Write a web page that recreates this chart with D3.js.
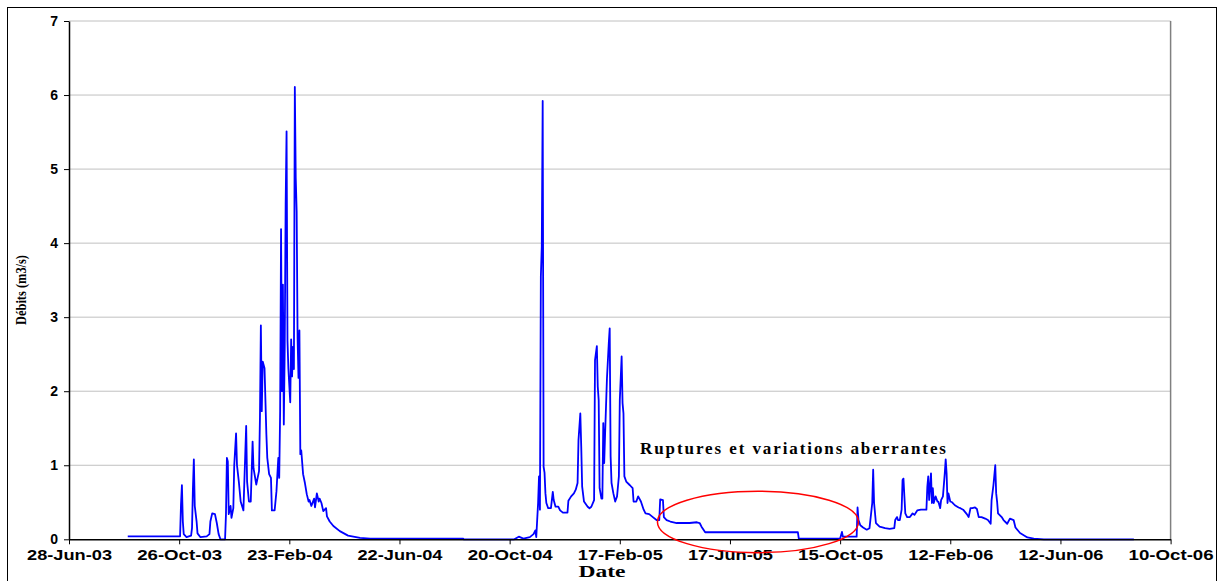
<!DOCTYPE html>
<html><head><meta charset="utf-8">
<script src="https://cdn.jsdelivr.net/npm/d3@7"></script>
<style>html,body{margin:0;padding:0;background:#fff}svg{display:block}</style>
</head><body>
<svg id="chart" width="1219" height="581"></svg>
<script>
// ---- data ----
const xTickLabels = ["28-Jun-03","26-Oct-03","23-Feb-04","22-Jun-04","20-Oct-04","17-Feb-05","17-Jun-05","15-Oct-05","12-Feb-06","12-Jun-06","10-Oct-06"];
const yTickValues = [0,1,2,3,4,5,6,7];
const xTitle = "Date";
const yTitle = "Débits (m3/s)";
const annotationText = "Ruptures et variations aberrantes";

const dates2003 = ["2003-08-31","2003-10-27","2003-10-28","2003-10-29","2003-10-30","2003-10-31","2003-11-03","2003-11-08","2003-11-09","2003-11-10","2003-11-11","2003-11-12","2003-11-14","2003-11-15","2003-11-18","2003-11-25","2003-11-28","2003-11-29","2003-12-01","2003-12-04","2003-12-06","2003-12-08","2003-12-10","2003-12-15","2003-12-16","2003-12-17","2003-12-18","2003-12-19","2003-12-21","2003-12-22","2003-12-24","2003-12-25","2003-12-27","2003-12-28","2003-12-30","2004-01-01","2004-01-04","2004-01-06","2004-01-07","2004-01-08","2004-01-10","2004-01-12","2004-01-14","2004-01-15","2004-01-18","2004-01-21","2004-01-22","2004-01-23","2004-01-24","2004-01-25","2004-01-27","2004-01-29","2004-01-30","2004-02-01","2004-02-03","2004-02-04","2004-02-07","2004-02-09","2004-02-11","2004-02-12","2004-02-13","2004-02-14","2004-02-15","2004-02-16","2004-02-17","2004-02-18","2004-02-19","2004-02-20","2004-02-21","2004-02-22","2004-02-24","2004-02-25","2004-02-26","2004-02-27","2004-02-28","2004-02-29","2004-03-01","2004-03-02","2004-03-03","2004-03-04","2004-03-05","2004-03-06","2004-03-07","2004-03-09","2004-03-11","2004-03-13","2004-03-15","2004-03-16","2004-03-18","2004-03-21","2004-03-22","2004-03-24","2004-03-26","2004-03-27","2004-03-29","2004-03-31","2004-04-03","2004-04-04","2004-04-07","2004-04-11","2004-04-18","2004-04-27","2004-05-10","2004-05-21","2004-08-30","2004-08-31"];
const debits2003 = [0.04,0.04,0.47,0.73,0.24,0.07,0.03,0.05,0.15,0.69,1.08,0.45,0.24,0.08,0.03,0.04,0.07,0.24,0.35,0.34,0.22,0.07,0.0,0.0,0.34,1.1,1.05,0.34,0.45,0.29,0.42,1.0,1.43,1.0,0.78,0.51,0.39,1.15,1.53,0.78,0.51,0.51,1.32,0.96,0.74,0.92,1.64,2.89,1.73,2.4,2.31,1.42,1.1,0.88,0.83,0.39,0.39,0.65,1.1,0.83,1.73,4.19,2.0,3.44,1.55,2.6,4.53,5.51,2.68,2.3,1.85,2.7,2.2,2.6,2.3,6.11,4.88,4.43,2.72,2.18,2.82,1.15,1.2,0.88,0.76,0.61,0.51,0.53,0.45,0.55,0.43,0.62,0.51,0.55,0.49,0.38,0.42,0.31,0.24,0.18,0.11,0.05,0.02,0.01,0.01,0.0];

const dates2004 = ["2004-10-25","2004-10-30","2004-11-04","2004-11-11","2004-11-15","2004-11-17","2004-11-18","2004-11-19","2004-11-20","2004-11-21","2004-11-22","2004-11-23","2004-11-24","2004-11-25","2004-11-26","2004-11-27","2004-11-28","2004-11-29","2004-12-01","2004-12-04","2004-12-06","2004-12-07","2004-12-09","2004-12-12","2004-12-14","2004-12-17","2004-12-22","2004-12-23","2004-12-26","2004-12-29","2004-12-31","2005-01-02","2005-01-03","2005-01-05","2005-01-06","2005-01-07","2005-01-09","2005-01-13","2005-01-15","2005-01-17","2005-01-20","2005-01-21","2005-01-23","2005-01-24","2005-01-25","2005-01-26","2005-01-28","2005-01-29","2005-01-30","2005-01-31","2005-02-01","2005-02-03","2005-02-05","2005-02-06","2005-02-07","2005-02-08","2005-02-10","2005-02-12","2005-02-14","2005-02-16","2005-02-17","2005-02-19","2005-02-20","2005-02-21","2005-02-22","2005-02-24","2005-02-28","2005-03-03","2005-03-04","2005-03-07","2005-03-09","2005-03-12","2005-03-15","2005-03-17","2005-03-21","2005-03-25","2005-03-29","2005-04-01","2005-04-02","2005-04-05","2005-04-06","2005-04-09","2005-04-13","2005-04-20","2005-04-27","2005-05-04","2005-05-12","2005-05-15","2005-05-17","2005-05-21","2005-08-30","2005-08-31"];
const debits2004 = [0.0,0.035,0.01,0.03,0.07,0.12,0.03,0.26,0.49,0.85,0.4,3.55,3.95,5.92,0.98,0.9,0.62,0.49,0.42,0.42,0.64,0.53,0.44,0.44,0.39,0.36,0.36,0.52,0.58,0.62,0.67,0.76,1.34,1.7,1.25,0.71,0.51,0.44,0.42,0.44,0.53,2.42,2.61,2.06,1.88,0.69,0.55,0.55,1.57,1.03,1.43,2.17,2.65,2.85,1.12,0.76,0.62,0.51,0.58,0.85,1.88,2.47,1.84,1.7,0.85,0.78,0.73,0.69,0.51,0.51,0.58,0.51,0.4,0.35,0.34,0.3,0.26,0.26,0.54,0.53,0.3,0.26,0.24,0.22,0.22,0.22,0.23,0.22,0.17,0.095,0.095,0.01];

const dates2005 = ["2005-10-15","2005-10-17","2005-10-18","2005-11-02","2005-11-03","2005-11-04","2005-11-06","2005-11-09","2005-11-13","2005-11-16","2005-11-19","2005-11-20","2005-11-21","2005-11-23","2005-11-27","2005-12-03","2005-12-08","2005-12-13","2005-12-14","2005-12-16","2005-12-17","2005-12-19","2005-12-21","2005-12-22","2005-12-23","2005-12-24","2005-12-25","2005-12-27","2005-12-30","2006-01-02","2006-01-04","2006-01-07","2006-01-11","2006-01-14","2006-01-17","2006-01-18","2006-01-19","2006-01-20","2006-01-22","2006-01-23","2006-01-24","2006-01-25","2006-01-27","2006-01-29","2006-01-30","2006-02-01","2006-02-02","2006-02-04","2006-02-06","2006-02-07","2006-02-08","2006-02-09","2006-02-10","2006-02-12","2006-02-14","2006-02-17","2006-02-21","2006-02-23","2006-02-26","2006-03-02","2006-03-04","2006-03-06","2006-03-08","2006-03-11","2006-03-13","2006-03-15","2006-03-18","2006-03-22","2006-03-25","2006-03-28","2006-03-29","2006-03-31","2006-04-02","2006-04-03","2006-04-04","2006-04-05","2006-04-09","2006-04-11","2006-04-15","2006-04-18","2006-04-22","2006-04-24","2006-04-29","2006-05-07","2006-05-14","2006-05-25","2006-08-31"];
const debits2005 = [0.01,0.1,0.035,0.035,0.43,0.26,0.19,0.16,0.13,0.15,0.49,0.94,0.49,0.22,0.17,0.15,0.14,0.15,0.26,0.3,0.26,0.26,0.4,0.8,0.82,0.58,0.35,0.3,0.3,0.35,0.33,0.39,0.4,0.4,0.4,0.71,0.85,0.53,0.89,0.49,0.69,0.49,0.58,0.51,0.51,0.42,0.53,0.58,0.89,1.08,0.89,0.49,0.62,0.51,0.5,0.46,0.43,0.42,0.4,0.34,0.3,0.42,0.42,0.43,0.41,0.3,0.3,0.28,0.26,0.21,0.53,0.73,1.0,0.62,0.51,0.35,0.3,0.26,0.21,0.28,0.26,0.16,0.085,0.025,0.01,0.0,0.0];

// annotation anchors (date, value)
const ellipseBounds = {dates:["2005-03-30","2005-11-04"], values:[-0.18, 0.65]};
const annotationAnchor = {date:"2005-03-11", value:1.15};

// ---- chart ----
const parseISO = d3.timeParse("%Y-%m-%d");
const parseTick = d3.timeParse("%d-%b-%y");
const series = [].concat(
  dates2003.map((d,i)=>({date:parseISO(d), v:debits2003[i]})),
  dates2004.map((d,i)=>({date:parseISO(d), v:debits2004[i]})),
  dates2005.map((d,i)=>({date:parseISO(d), v:debits2005[i]}))
);
const tickDates = xTickLabels.map(parseTick);

const svg = d3.select("#chart");
const L = 69, R = 1170.6, T = 21, B = 539.3;

svg.append("rect").attr("x",7.5).attr("y",7.5).attr("width",1209).attr("height",620)
  .attr("fill","#fff").attr("stroke","#000").attr("stroke-width",1);

const x = d3.scaleTime().domain([tickDates[0], tickDates[tickDates.length-1]]).range([L, R]);
const y = d3.scaleLinear().domain([0, 7]).range([B, T]);

// gridlines
svg.append("g").selectAll("line").data(yTickValues.filter(v=>v>0)).join("line")
  .attr("x1",L).attr("x2",R).attr("y1",d=>y(d)).attr("y2",d=>y(d))
  .attr("stroke","#c0c0c0").attr("stroke-width",1);
// plot right border
svg.append("line").attr("x1",R).attr("x2",R).attr("y1",T).attr("y2",B)
  .attr("stroke","#808080").attr("stroke-width",1.5);

// line
const line = d3.line().x(d=>x(d.date)).y(d=>y(d.v));
svg.append("path").datum(series).attr("d",line)
  .attr("fill","none").attr("stroke","#0000ff").attr("stroke-width",1.8).attr("stroke-linejoin","round");

// axes
const sans = "Arial, 'Liberation Sans', sans-serif";
const serif = "'Liberation Serif','Times New Roman',serif";
const xAxis = d3.axisBottom(x).tickValues(tickDates).tickFormat((d,i)=>xTickLabels[i]).tickSize(5).tickSizeOuter(0);
const gx = svg.append("g").attr("transform",`translate(0,${B})`).call(xAxis);
gx.select(".domain").attr("stroke","#000").attr("stroke-width",1.5);
gx.selectAll(".tick line").attr("stroke","#000");
gx.selectAll(".tick text").attr("font-family",sans).attr("font-weight","bold")
  .attr("font-size","15px").attr("fill","#000").attr("dy","0.85em")
  .attr("textLength",85).attr("lengthAdjust","spacingAndGlyphs");

const yAxis = d3.axisLeft(y).tickValues(yTickValues).tickFormat(d3.format("d")).tickSize(5).tickSizeOuter(0);
const gy = svg.append("g").attr("transform",`translate(${L},0)`).call(yAxis);
gy.select(".domain").attr("stroke","#000").attr("stroke-width",1.5);
gy.selectAll(".tick line").attr("stroke","#000");
gy.selectAll(".tick text").attr("font-family",sans).attr("font-weight","bold")
  .attr("font-size","14px").attr("fill","#000").attr("x",-11);

// titles
svg.append("text").attr("x",602).attr("y",576.5).attr("text-anchor","middle")
  .attr("font-family",serif).attr("font-weight","bold")
  .attr("font-size","17px").attr("textLength",47).attr("lengthAdjust","spacingAndGlyphs").text(xTitle);
svg.append("text").attr("transform","translate(26,290) rotate(-90)").attr("text-anchor","middle")
  .attr("font-family",serif).attr("font-weight","bold")
  .attr("font-size","14px").attr("textLength",70).attr("lengthAdjust","spacingAndGlyphs").text(yTitle);

// annotation
const ex0 = x(parseISO(ellipseBounds.dates[0])), ex1 = x(parseISO(ellipseBounds.dates[1]));
const ey0 = y(ellipseBounds.values[1]), ey1 = y(ellipseBounds.values[0]);
svg.append("ellipse").attr("cx",(ex0+ex1)/2).attr("cy",(ey0+ey1)/2)
  .attr("rx",(ex1-ex0)/2).attr("ry",(ey1-ey0)/2)
  .attr("fill","none").attr("stroke","#ff0000").attr("stroke-width",1.5);
svg.append("text").attr("x",x(parseISO(annotationAnchor.date))).attr("y",y(annotationAnchor.value))
  .attr("font-family",serif).attr("font-weight","bold")
  .attr("font-size","17px").attr("textLength",306).attr("lengthAdjust","spacing").text(annotationText);
</script>
</body></html>
